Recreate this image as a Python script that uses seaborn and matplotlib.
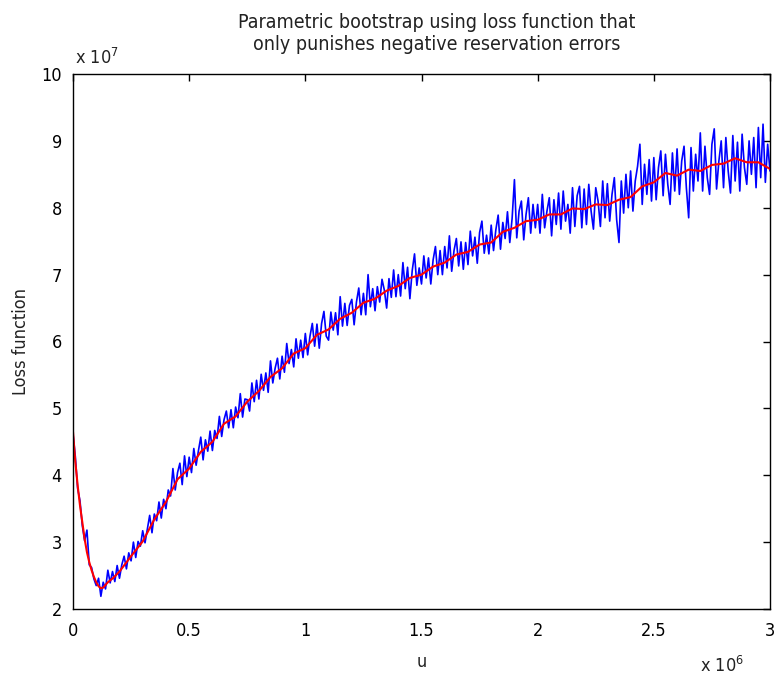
import numpy as np
import pandas as pd
import matplotlib
matplotlib.use("Agg")
import matplotlib.pyplot as plt
import seaborn as sns
from matplotlib.ticker import FuncFormatter

# ---- data (u in units of 1e6, loss in units of 1e7) ----
red_u = [0, 0.01, 0.02, 0.03, 0.04, 0.05, 0.06, 0.07, 0.08, 0.09, 0.10, 0.11, 0.12, 0.13,
         0.14, 0.15, 0.175, 0.2, 0.25, 0.3, 0.35, 0.4, 0.45, 0.5, 0.55, 0.6, 0.65, 0.7,
         0.75, 0.8, 0.85, 0.9, 0.95, 1.0, 1.05, 1.1, 1.15, 1.2, 1.25, 1.3, 1.35, 1.4,
         1.45, 1.5, 1.55, 1.6, 1.65, 1.7, 1.75, 1.8, 1.85, 1.9, 1.95, 2.0, 2.05, 2.1,
         2.15, 2.2, 2.25, 2.3, 2.35, 2.4, 2.45, 2.5, 2.55, 2.6, 2.65, 2.7, 2.75, 2.8,
         2.85, 2.9, 2.95, 3.0]
red_loss = [4.65, 4.20, 3.85, 3.55, 3.30, 3.05, 2.85, 2.70, 2.58, 2.48, 2.40, 2.34, 2.31, 2.32,
            2.36, 2.40, 2.47, 2.56, 2.79, 3.01, 3.34, 3.60, 3.94, 4.10, 4.35, 4.50, 4.77, 4.88,
            5.10, 5.26, 5.47, 5.60, 5.82, 5.90, 6.10, 6.18, 6.34, 6.43, 6.58, 6.64, 6.76, 6.83,
            6.95, 7.00, 7.12, 7.18, 7.30, 7.34, 7.45, 7.48, 7.64, 7.70, 7.80, 7.82, 7.90, 7.90,
            7.99, 7.98, 8.05, 8.04, 8.12, 8.16, 8.32, 8.38, 8.52, 8.48, 8.57, 8.55, 8.64, 8.66,
            8.74, 8.68, 8.68, 8.58]

blue_step = 0.01  # spacing of the blue samples (units of 1e6)
blue_loss = [
    4.62, 4.28, 3.80, 3.62, 3.25, 3.02, 3.18, 2.66, 2.62, 2.45,
    2.35, 2.46, 2.19, 2.40, 2.30, 2.58, 2.39, 2.56, 2.41, 2.65,
    2.46, 2.66, 2.79, 2.60, 2.84, 2.72, 3.00, 2.77, 3.01, 2.94,
    3.17, 2.99, 3.20, 3.40, 3.14, 3.42, 3.32, 3.60, 3.36, 3.64,
    3.50, 3.78, 3.69, 4.10, 3.78, 4.04, 4.18, 3.86, 4.29, 3.98,
    4.27, 4.04, 4.40, 4.15, 4.37, 4.57, 4.23, 4.53, 4.36, 4.66,
    4.37, 4.67, 4.55, 4.88, 4.58, 4.83, 4.96, 4.71, 4.98, 4.71,
    5.02, 4.86, 5.22, 4.87, 5.14, 5.13, 4.96, 5.38, 5.10, 5.42,
    5.14, 5.51, 5.27, 5.53, 5.24, 5.71, 5.38, 5.60, 5.75, 5.44,
    5.78, 5.54, 5.97, 5.67, 5.88, 5.62, 6.04, 5.75, 6.02, 5.76,
    6.12, 5.80, 6.08, 6.27, 5.93, 6.26, 5.90, 6.27, 6.45, 6.08,
    6.02, 6.44, 6.17, 6.43, 6.10, 6.67, 6.23, 6.57, 6.24, 6.54,
    6.63, 6.25, 6.59, 6.80, 6.40, 6.72, 6.40, 7.00, 6.52, 6.79,
    6.46, 6.82, 6.59, 6.93, 6.77, 6.50, 6.94, 6.66, 7.07, 6.67,
    7.00, 6.68, 7.18, 6.79, 7.11, 6.64, 7.06, 7.31, 6.84, 7.10,
    6.86, 7.28, 6.95, 7.25, 6.86, 7.22, 7.42, 7.00, 7.36, 7.00,
    7.42, 7.10, 7.58, 7.05, 7.36, 7.54, 7.13, 7.49, 7.08, 7.48,
    7.15, 7.65, 7.28, 7.56, 7.17, 7.63, 7.80, 7.32, 7.59, 7.31,
    7.74, 7.36, 7.67, 7.89, 7.38, 7.78, 7.54, 7.94, 7.48, 7.84,
    8.42, 7.55, 7.95, 8.10, 7.52, 7.90, 8.15, 7.62, 8.05, 7.70,
    8.05, 7.62, 8.20, 7.70, 7.95, 8.15, 7.58, 8.12, 7.75, 8.22,
    7.68, 8.25, 7.80, 8.05, 7.62, 8.30, 7.72, 8.18, 8.32, 7.70,
    8.28, 7.75, 8.35, 7.95, 7.68, 8.30, 8.10, 7.72, 8.40, 7.85,
    8.36, 7.80, 8.20, 8.45, 7.82, 7.48, 8.40, 7.92, 8.50, 8.00,
    8.55, 7.95, 8.40, 8.62, 8.95, 8.05, 8.65, 8.20, 8.72, 8.10,
    8.75, 8.12, 8.60, 8.85, 8.18, 8.80, 8.35, 8.05, 8.82, 8.25,
    8.88, 8.20, 8.70, 8.92, 8.30, 7.85, 8.90, 8.25, 8.80, 8.40,
    9.12, 8.25, 8.92, 8.45, 8.20, 8.95, 9.18, 8.28, 8.70, 9.00,
    8.30, 9.05, 8.55, 8.22, 9.08, 8.40, 8.98, 8.25, 9.10, 8.60,
    8.35, 9.00, 8.50, 9.05, 8.30, 9.20, 8.45, 9.25, 8.38, 8.95,
    8.55,
]

x_ticks = [0, 0.5, 1, 1.5, 2, 2.5, 3]
y_ticks = [2, 3, 4, 5, 6, 7, 8, 9, 10]
x_scale = 1e6
y_scale = 1e7

title_text = "Parametric bootstrap using loss function that\nonly punishes negative reservation errors"

# ---- build frames ----
blue_df = pd.DataFrame({
    "u": np.arange(len(blue_loss)) * blue_step * x_scale,
    "loss": np.array(blue_loss) * y_scale,
})
red_df = pd.DataFrame({
    "u": np.array(red_u) * x_scale,
    "loss": np.array(red_loss) * y_scale,
})

sns.set_theme(style="white")
plt.rcParams["font.family"] = ["Liberation Sans Narrow", "DejaVu Sans"]
plt.rcParams["font.stretch"] = "condensed"
plt.rcParams["xtick.direction"] = "in"
plt.rcParams["ytick.direction"] = "in"

fig = plt.figure(figsize=(7.74, 6.80), dpi=100)
ax = fig.add_axes([73 / 774, 1 - 609 / 680, (770 - 73) / 774, (609 - 74) / 680])

sns.lineplot(data=blue_df, x="u", y="loss", ax=ax, color=(0, 0, 1), linewidth=1.2,
             estimator=None, sort=False)
sns.lineplot(data=red_df, x="u", y="loss", ax=ax, color=(1, 0, 0), linewidth=1.5,
             estimator=None, sort=False)

ax.set_xlim(0, 3 * x_scale)
ax.set_ylim(2 * y_scale, 10 * y_scale)
ax.set_xticks([t * x_scale for t in x_ticks])
ax.set_yticks([t * y_scale for t in y_ticks])
ax.xaxis.set_major_formatter(FuncFormatter(lambda v, p: f"{v / x_scale:g}"))
ax.yaxis.set_major_formatter(FuncFormatter(lambda v, p: f"{v / y_scale:g}"))
ax.tick_params(axis="x", which="major", direction="in", length=5, width=1,
               colors="black", labelsize=13, top=True, pad=9)
ax.tick_params(axis="y", which="major", direction="in", length=5, width=1,
               colors="black", labelsize=13, right=True, pad=8)
for s in ax.spines.values():
    s.set_visible(True)
    s.set_color("black")
    s.set_linewidth(1.0)

ax.set_xlabel("u", fontsize=13, labelpad=10, color="#222222")
ax.set_ylabel("Loss function", fontsize=13, labelpad=8, color="#222222")

fig.text(437 / 774, 1 - 13 / 680, title_text, ha="center", va="top", fontsize=14,
         linespacing=1.2, color="#222222")
fig.text(75 / 774, 1 - 64 / 680, r"x 10$^{7}$", ha="left", va="baseline", fontsize=13,
         color="#222222")
fig.text(700 / 774, 1 - 672 / 680, r"x 10$^{6}$", ha="left", va="baseline", fontsize=13,
         color="#222222")

fig.savefig("out.png", dpi=100, facecolor="white")
